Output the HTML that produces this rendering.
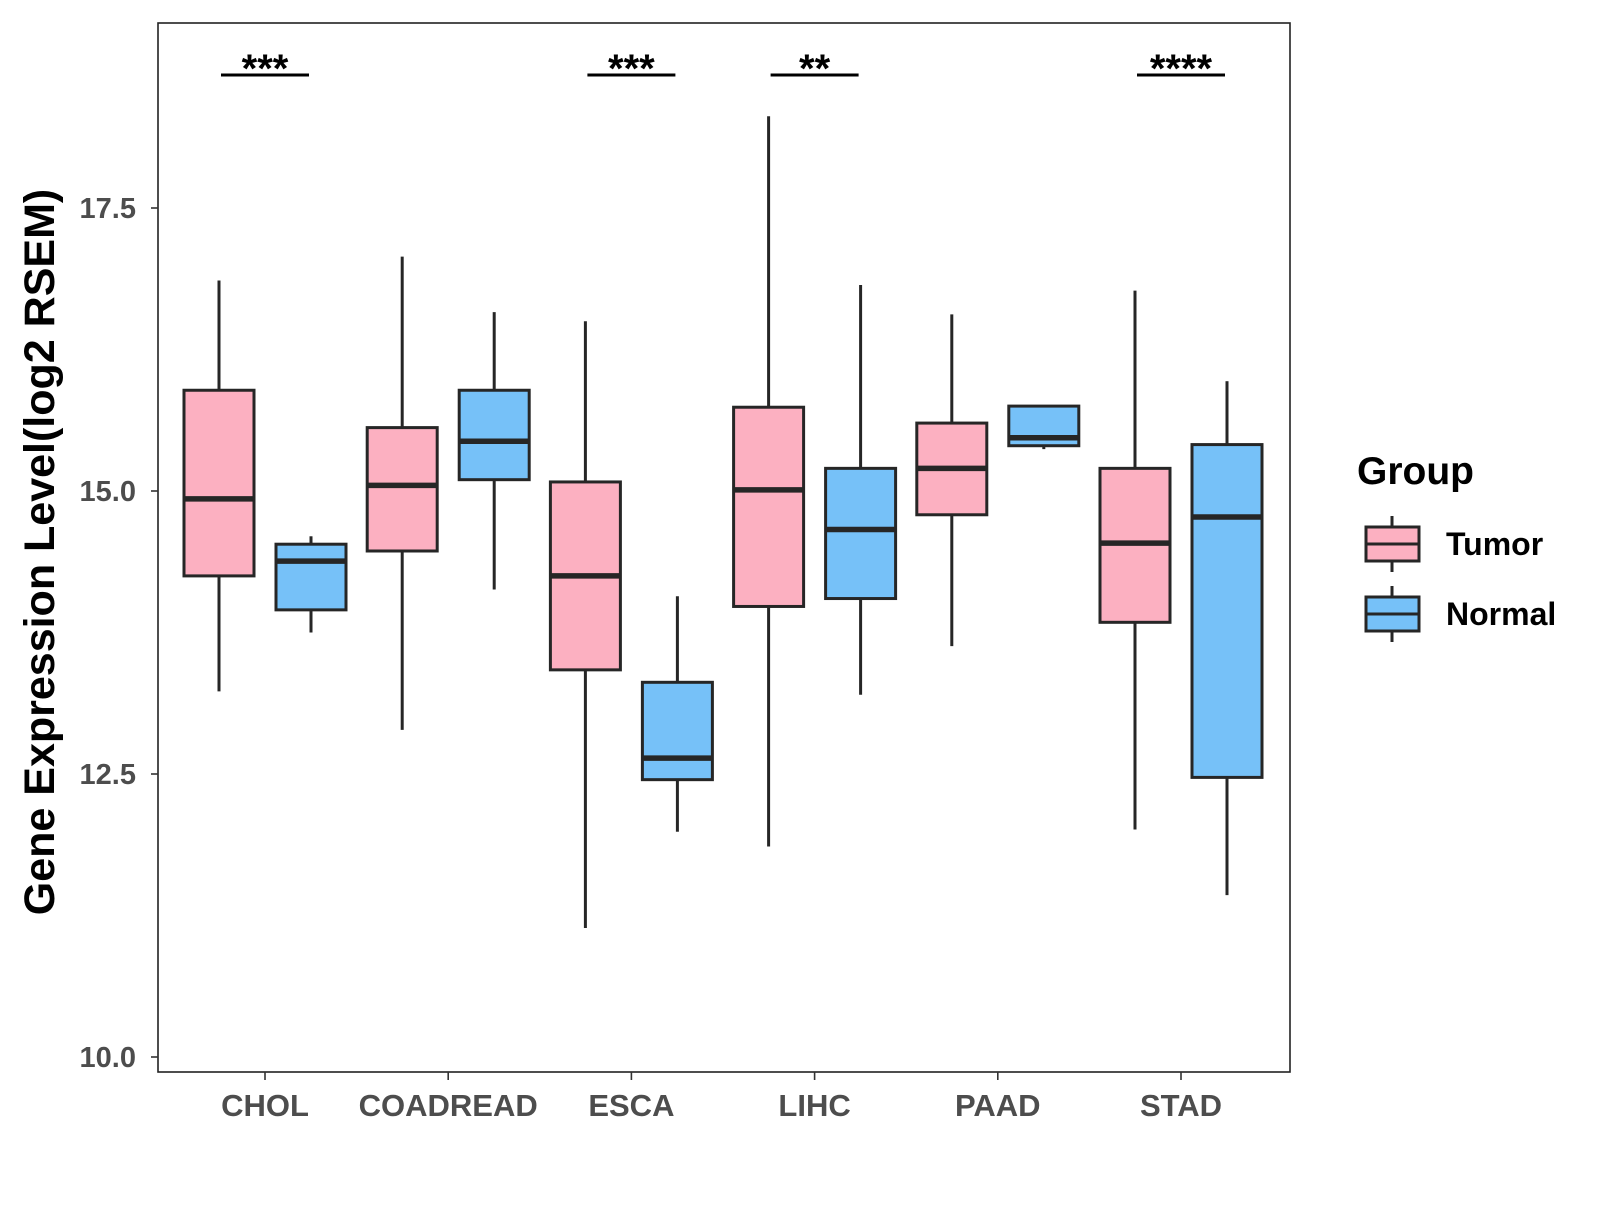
<!DOCTYPE html>
<html><head><meta charset="utf-8"><style>
html,body{margin:0;padding:0;background:#fff;}
svg text{font-family:"Liberation Sans",Arial,sans-serif;font-weight:bold;}
</style></head><body>
<svg id="chart" width="1600" height="1200" xmlns="http://www.w3.org/2000/svg">
<rect x="0" y="0" width="1600" height="1200" fill="#fff"/>
<g id="marks"></g>
</svg>
<script>
const categories=["CHOL","COADREAD","ESCA","LIHC","PAAD","STAD"];
// [low, q1, median, q3, high]
const tumorStats=[[13.23,14.25,14.93,15.89,16.86],[12.89,14.47,15.05,15.56,17.07],[11.14,13.42,14.25,15.08,16.50],[11.86,13.98,15.01,15.74,18.31],[13.63,14.79,15.20,15.60,16.56],[12.01,13.84,14.54,15.20,16.77]];
const normalStats=[[13.75,13.95,14.38,14.53,14.60],[14.13,15.10,15.44,15.89,16.58],[11.99,12.45,12.64,13.31,14.07],[13.20,14.05,14.66,15.20,16.82],[15.37,15.40,15.47,15.75,15.75],[11.43,12.47,14.77,15.41,15.97]];
const significance=["***","","***","**","","****"];
const yTicks=[10,12.5,15,17.5];
const yTickLabels=["10.0","12.5","15.0","17.5"];

const NS="http://www.w3.org/2000/svg";
const g=document.getElementById("marks");
const PL=158,PR=1290,PT=23,PB=1072;
function y(v){return 1057-(v-10)*113.2;}
function x(i){return 265+i*183.2;}
function mk(tag,attrs,parent){const e=document.createElementNS(NS,tag);for(const k in attrs)e.setAttribute(k,attrs[k]);(parent||g).appendChild(e);return e;}

const panel=mk("rect",{x:PL,y:PT,width:PR-PL,height:PB-PT,fill:"none",stroke:"#222","stroke-width":1.6});



yTicks.forEach((v,i)=>{
  const t=mk("line",{x1:PL-7,x2:PL,y1:y(v),y2:y(v),stroke:"#333","stroke-width":1.6});
  
  
  const l=mk("text",{x:136,y:y(v)+10,"text-anchor":"end","font-size":29,fill:"#4d4d4d"});
  l.textContent=yTickLabels[i];
  
  
});

function drawBox(s,cx,color,name){
  const w=70,hw=w/2;
  const grp=mk("g",{});
  
  
  mk("line",{x1:cx,x2:cx,y1:y(s[4]),y2:y(s[3]),stroke:"#262626","stroke-width":3},grp);
  mk("line",{x1:cx,x2:cx,y1:y(s[1]),y2:y(s[0]),stroke:"#262626","stroke-width":3},grp);
  mk("rect",{x:cx-hw,y:y(s[3]),width:w,height:y(s[1])-y(s[3]),fill:color,stroke:"#262626","stroke-width":3},grp);
  mk("line",{x1:cx-hw,x2:cx+hw,y1:y(s[2]),y2:y(s[2]),stroke:"#262626","stroke-width":5.5},grp);
}

categories.forEach((c,i)=>{
  const cx=x(i);
  drawBox(tumorStats[i],cx-46,"#FCB0C1","tumor-box-"+c.toLowerCase());
  drawBox(normalStats[i],cx+46,"#76C1F8","normal-box-"+c.toLowerCase());
  const t=mk("line",{x1:cx,x2:cx,y1:PB,y2:PB+8,stroke:"#333","stroke-width":1.6});
  
  
  const l=mk("text",{x:cx,y:1116,"text-anchor":"middle","font-size":31,fill:"#4d4d4d"});
  l.textContent=c;
  
  
  if(significance[i]){
    const b=mk("line",{x1:cx-44,x2:cx+44,y1:75,y2:75,stroke:"#000","stroke-width":3});
    
    
    const s=mk("text",{x:cx,y:82,"text-anchor":"middle","font-size":40,fill:"#000"});
    s.textContent=significance[i];
    
    
  }
});

const yt=mk("text",{x:0,y:0,transform:"translate(54,552) rotate(-90)","text-anchor":"middle","font-size":43,fill:"#000"});
yt.textContent="Gene Expression Level(log2 RSEM)";



const lt=mk("text",{x:1357,y:484,"font-size":39,fill:"#000"});
lt.textContent="Group";


const legendItems=[["Tumor","#FCB0C1",544],["Normal","#76C1F8",614]];
legendItems.forEach(it=>{
  const lg=mk("g",{});
  
  
  const cy=it[2];
  mk("line",{x1:1392,x2:1392,y1:cy-28,y2:cy+28,stroke:"#262626","stroke-width":3},lg);
  mk("rect",{x:1366,y:cy-17,width:53,height:34,fill:it[1],stroke:"#262626","stroke-width":3},lg);
  mk("line",{x1:1366,x2:1419,y1:cy,y2:cy,stroke:"#262626","stroke-width":3},lg);
  const tx=mk("text",{x:1446,y:cy+11,"font-size":32,fill:"#000"},lg);
  tx.textContent=it[0];
});
</script>
</body></html>
